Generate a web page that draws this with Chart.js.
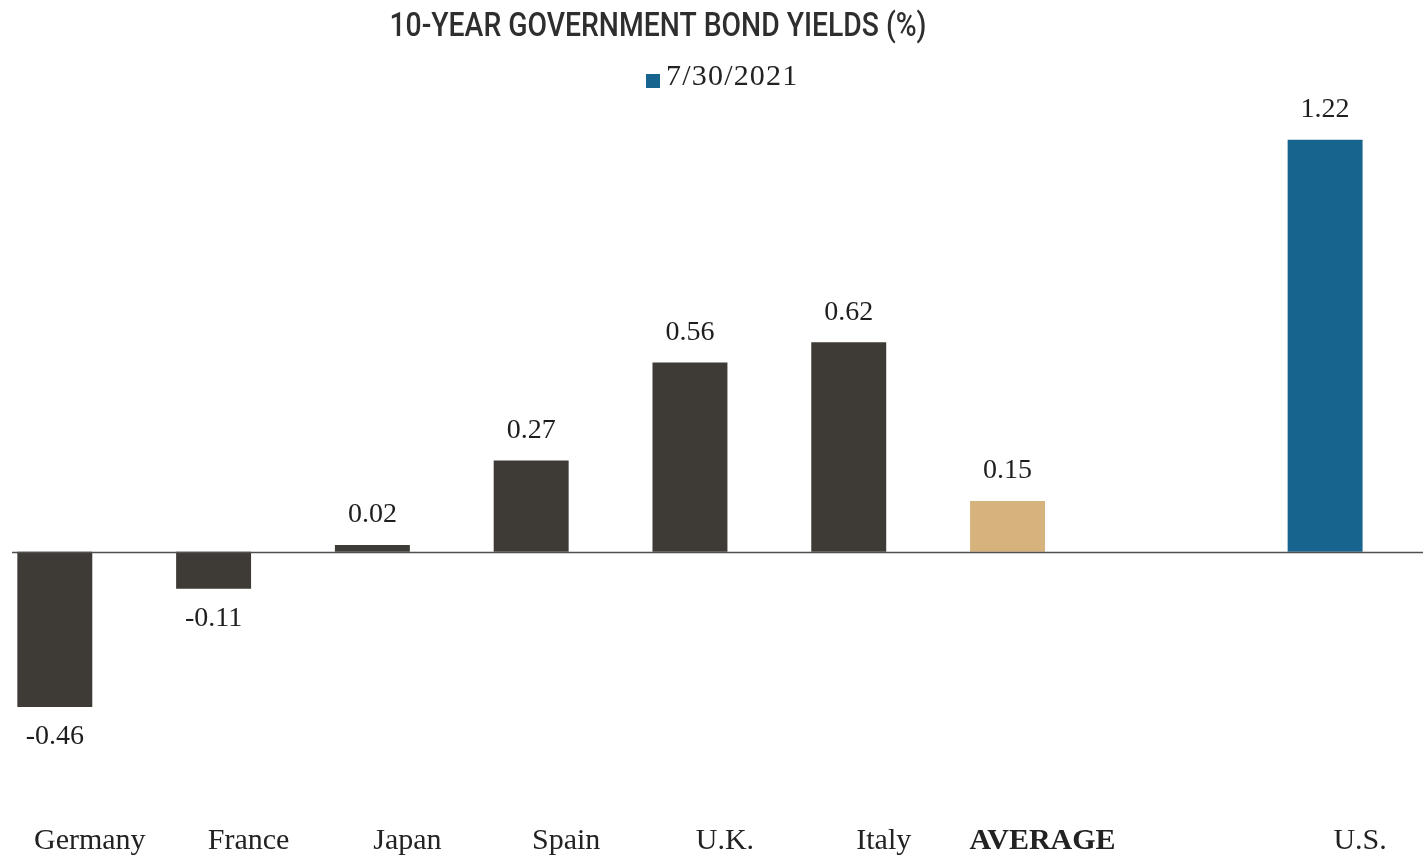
<!DOCTYPE html>
<html>
<head>
<meta charset="utf-8">
<script src="https://cdn.jsdelivr.net/npm/chart.js@4.4.1/dist/chart.umd.min.js"></script>
<style>
  html, body { margin: 0; padding: 0; background: #ffffff; overflow: hidden; }
  #wrap { position: absolute; left: -36px; top: 0; width: 1459px; height: 861px; }
</style>
</head>
<body>
<div id="wrap"><canvas id="chart"></canvas></div>
<script>
// 10-year government bond yields, %, as of 7/30/2021
const categories = ['Germany', 'France', 'Japan', 'Spain', 'U.K.', 'Italy', 'AVERAGE', '', 'U.S.'];
const yields = [-0.46, -0.11, 0.02, 0.27, 0.56, 0.62, 0.15, null, 1.22];
const barColors = ['#3e3a35', '#3e3a35', '#3e3a35', '#3e3a35', '#3e3a35', '#3e3a35', '#d6b37c', '#3e3a35', '#17658f'];
const seriesLabel = '7/30/2021';
const chartTitle = '10-YEAR GOVERNMENT BOND YIELDS (%)';

const serif = '"Liberation Serif", "DejaVu Serif", serif';
const OFFSET_X = 36; // canvas starts this far left of the page

// Title and legend swatch drawn at the top of the canvas
const headerPlugin = {
  id: 'header',
  afterDraw(chart) {
    const ctx = chart.ctx;
    ctx.save();
    // condensed-looking title: medium sans squeezed to a fixed width
    ctx.fillStyle = '#2e2e2e';
    ctx.font = '500 34px Roboto, "Liberation Sans", sans-serif';
    ctx.textAlign = 'center';
    ctx.textBaseline = 'middle';
    const w = ctx.measureText(chartTitle).width;
    const sx = 537 / w;
    ctx.translate(658 + OFFSET_X, 27);
    ctx.scale(sx, 1);
    ctx.fillText(chartTitle, 0, 0);
    ctx.restore();

    ctx.save();
    ctx.fillStyle = '#17658f';
    ctx.fillRect(646 + OFFSET_X, 74, 14, 14);
    ctx.fillStyle = '#222222';
    ctx.font = '30px ' + serif;
    ctx.letterSpacing = '1.2px';
    ctx.textAlign = 'left';
    ctx.textBaseline = 'middle';
    ctx.fillText(seriesLabel, 666 + OFFSET_X, 77);
    ctx.restore();
  }
};

// Zero baseline running across the plot
const baselinePlugin = {
  id: 'baseline',
  afterDatasetsDraw(chart) {
    const ctx = chart.ctx;
    const y = Math.round(chart.scales.y.getPixelForValue(0)) + 0.5;
    ctx.save();
    ctx.strokeStyle = '#505050';
    ctx.lineWidth = 1.5;
    ctx.beginPath();
    ctx.moveTo(12 + OFFSET_X, y);
    ctx.lineTo(chart.width, y);
    ctx.stroke();
    ctx.restore();
  }
};

// Value labels above positive bars and below negative ones
const valueLabelPlugin = {
  id: 'valueLabels',
  afterDatasetsDraw(chart) {
    const ctx = chart.ctx;
    const meta = chart.getDatasetMeta(0);
    const data = chart.data.datasets[0].data;
    ctx.save();
    ctx.fillStyle = '#1e1e1e';
    ctx.font = '28px ' + serif;
    ctx.textAlign = 'center';
    ctx.textBaseline = 'middle';
    meta.data.forEach((bar, i) => {
      const v = data[i];
      if (v === null || v === undefined) return;
      const y = v >= 0 ? bar.y - 30 : bar.y + 30;
      ctx.fillText(v.toFixed(2), bar.x, y);
    });
    ctx.restore();
  }
};

new Chart(document.getElementById('chart'), {
  type: 'bar',
  data: {
    labels: categories,
    datasets: [{
      label: seriesLabel,
      data: yields,
      backgroundColor: barColors,
      borderWidth: 0,
      categoryPercentage: 1.0,
      barPercentage: 0.472
    }]
  },
  options: {
    responsive: true,
    maintainAspectRatio: false,
    animation: false,
    layout: { padding: { top: 79, bottom: 1, left: 0, right: 18.5 } },
    plugins: {
      legend: { display: false },
      title: { display: false },
      tooltip: { enabled: false }
    },
    scales: {
      x: {
        grid: { display: false, drawTicks: false },
        border: { display: false },
        afterFit(scale) { scale.height = 72; },
        ticks: {
          padding: 35,
          labelOffset: 35,
          maxRotation: 0,
          autoSkip: false,
          color: '#222222',
          font: (c) => ({
            family: serif,
            size: 30,
            weight: (c.tick && c.tick.label === 'AVERAGE') ? 'bold' : 'normal'
          })
        }
      },
      y: {
        display: false,
        min: -0.7,
        max: 1.4
      }
    }
  },
  plugins: [headerPlugin, baselinePlugin, valueLabelPlugin]
});
</script>
</body>
</html>
